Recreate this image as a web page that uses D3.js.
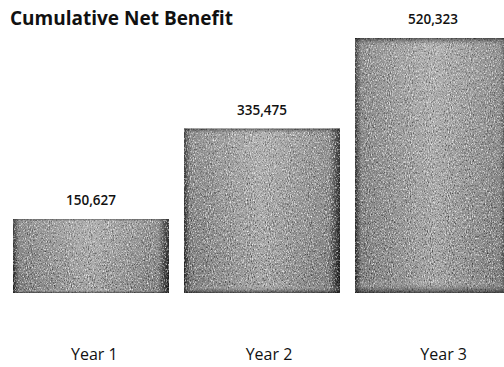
<!DOCTYPE html>
<html>
<head>
<meta charset="utf-8">
<script src="https://cdn.jsdelivr.net/npm/d3@7"></script>
<style>
  body { margin: 0; background: #fff; }
  text { font-family: "Open Sans", Lato, sans-serif; fill: #111; }
</style>
</head>
<body>
<div class="chart"></div>
<script>
var width = 504,
    height = 367;

var years = ["Year 1", "Year 2", "Year 3"];
var netBenefit = [150627, 335475, 520323];

var svg = d3.select(".chart").append("svg")
    .attr("width", width)
    .attr("height", height);

// bars: step ~171px, width ~156px
var x = d3.scaleBand()
    .domain(years)
    .range([13, 511])
    .paddingInner(0.088)
    .paddingOuter(0);

// category labels sit a little right of the bar centres in the original
var xLabel = d3.scaleBand()
    .domain(years)
    .range([7, 531]);

var y = d3.scaleLinear()
    .domain([0, 520323])
    .range([293, 38]);

var defs = svg.append("defs");

// side shading of the bevelled bars
var side = defs.append("linearGradient").attr("id", "side")
    .attr("x1", 0).attr("x2", 1).attr("y1", 0).attr("y2", 0);
side.append("stop").attr("offset", "0%").attr("stop-color", "#1e1e1e");
side.append("stop").attr("offset", "4%").attr("stop-color", "#7c7c7c");
side.append("stop").attr("offset", "50%").attr("stop-color", "#a2a2a2");
side.append("stop").attr("offset", "93%").attr("stop-color", "#7e7e7e");
side.append("stop").attr("offset", "100%").attr("stop-color", "#101010");

var topbot = defs.append("linearGradient").attr("id", "topbot")
    .attr("x1", 0).attr("x2", 0).attr("y1", 0).attr("y2", 1);
topbot.append("stop").attr("offset", "0%").attr("stop-color", "#000").attr("stop-opacity", 0.45);
topbot.append("stop").attr("offset", "3%").attr("stop-color", "#fff").attr("stop-opacity", 0.15);
topbot.append("stop").attr("offset", "95%").attr("stop-color", "#fff").attr("stop-opacity", 0);
topbot.append("stop").attr("offset", "100%").attr("stop-color", "#000").attr("stop-opacity", 0.55);

// grainy print texture: light and dark specks
function addGrain(id, seed, rgb, alpha) {
  var f = defs.append("filter").attr("id", id)
      .attr("x", 0).attr("y", 0).attr("width", 1).attr("height", 1);
  f.append("feTurbulence").attr("type", "fractalNoise")
      .attr("baseFrequency", "0.95 0.55").attr("numOctaves", 2).attr("seed", seed).attr("result", "noise");
  f.append("feColorMatrix").attr("in", "noise").attr("type", "matrix")
      .attr("values", "0 0 0 0 " + rgb + "  0 0 0 0 " + rgb + "  0 0 0 0 " + rgb + "  0 0 0 " + alpha)
      .attr("result", "speck");
  f.append("feComposite").attr("in", "speck").attr("in2", "SourceGraphic").attr("operator", "in");
}
addGrain("grainLight", 3, 1, "2.2 -1.05");
addGrain("grainDark", 11, 0, "1.8 -0.95");

function barRects(fill, filter) {
  bar.append("rect")
      .attr("x", function(d) { return x(d); })
      .attr("y", function(d, i) { return y(netBenefit[i]); })
      .attr("width", x.bandwidth())
      .attr("height", function(d, i) { return y(0) - y(netBenefit[i]); })
      .attr("fill", fill)
      .attr("filter", filter);
}

var bar = svg.selectAll(".bar")
    .data(years)
    .enter().append("g")
    .attr("class", "bar");

barRects("url(#side)", null);
barRects("#fff", "url(#grainLight)");
barRects("#000", "url(#grainDark)");
barRects("url(#topbot)", null);

bar.append("text")
    .attr("x", function(d) { return x(d) + x.bandwidth() / 2; })
    .attr("y", function(d, i) { return y(netBenefit[i]) - 14; })
    .attr("text-anchor", "middle")
    .style("font-size", "13.5px")
    .style("font-weight", "600")
    .text(function(d, i) { return d3.format(",")(netBenefit[i]); });

var xAxis = svg.append("g")
    .attr("transform", "translate(0,360)")
    .call(d3.axisBottom(xLabel).tickSize(0).tickPadding(0));
xAxis.select(".domain").remove();
xAxis.selectAll("text")
    .attr("dy", "0")
    .style("font-family", "'Open Sans', Lato, sans-serif")
    .style("font-size", "16px")
    .style("fill", "#111");

svg.append("text")
    .attr("x", 10)
    .attr("y", 25)
    .style("font-size", "19px")
    .style("font-weight", "bold")
    .text("Cumulative Net Benefit");
</script>
</body>
</html>
